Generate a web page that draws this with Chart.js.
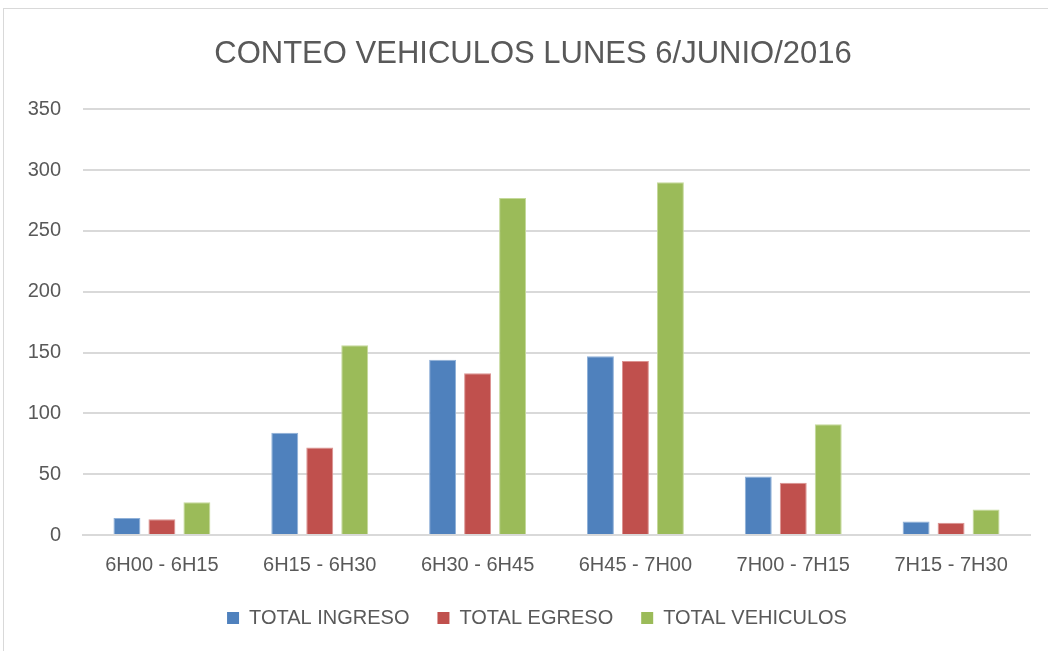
<!DOCTYPE html>
<html>
<head>
<meta charset="utf-8">
<script src="https://cdn.jsdelivr.net/npm/chart.js@4"></script>
<style>
  html, body { margin: 0; padding: 0; background: #ffffff; }
  #wrap { position: relative; width: 1048px; height: 651px; overflow: hidden; }
  #frame { position: absolute; left: 3px; top: 8px; width: 1100px; height: 700px; border: 1px solid #D9D9D9; box-sizing: border-box; }
  canvas { position: absolute; left: 0; top: 0; }
</style>
</head>
<body>
<div id="wrap">
  <div id="frame"></div>
  <canvas id="c" width="1048" height="651"></canvas>
</div>
<script>
const title = "CONTEO VEHICULOS LUNES 6/JUNIO/2016";
const categories = ["6H00 - 6H15", "6H15 - 6H30", "6H30 - 6H45", "6H45 - 7H00", "7H00 - 7H15", "7H15 - 7H30"];
const totalIngreso = [14, 84, 144, 147, 48, 11];
const totalEgreso = [13, 72, 133, 143, 43, 10];
const totalVehiculos = [27, 156, 277, 290, 91, 21];
const seriesNames = ["TOTAL INGRESO", "TOTAL EGRESO", "TOTAL VEHICULOS"];
const yTicks = [0, 50, 100, 150, 200, 250, 300, 350];

const FONT = "'Liberation Sans', 'Open Sans', sans-serif";
const TXT = "#595959";
const GRID = "#D9D9D9";

function ds(label, data, fill, edge) {
  return {
    label, data,
    backgroundColor: fill,
    borderColor: edge,
    borderWidth: 1,
    categoryPercentage: 0.665,
    barPercentage: 0.77
  };
}

// shift title and legend horizontally to their places in the original
const shiftBlocks = {
  id: 'shiftBlocks',
  afterLayout(chart) {
    if (chart.titleBlock) { chart.titleBlock.left += 18; chart.titleBlock.right += 18; }
    if (chart.legend) { chart.legend.left += 22; chart.legend.right += 22; }
  }
};

new Chart(document.getElementById('c'), {
  type: 'bar',
  data: {
    labels: categories,
    datasets: [
      ds(seriesNames[0], totalIngreso, '#4F81BD', '#8FB0D8'),
      ds(seriesNames[1], totalEgreso, '#C0504D', '#DC9391'),
      ds(seriesNames[2], totalVehiculos, '#9BBB59', '#C4D99A')
    ]
  },
  plugins: [shiftBlocks],
  options: {
    responsive: false,
    animation: false,
    devicePixelRatio: 1,
    layout: { padding: { left: 0, right: 18, top: 0, bottom: 13 } },
    plugins: {
      title: {
        display: true,
        text: title,
        color: TXT,
        font: { family: FONT, size: 31, weight: 'normal' },
        padding: { top: 36, bottom: 36 }
      },
      legend: {
        position: 'bottom',
        labels: {
          color: TXT,
          font: { family: FONT, size: 20 },
          boxWidth: 12,
          boxHeight: 12,
          padding: 28,
          generateLabels: (chart) => chart.data.datasets.map((d, i) => ({
            text: d.label, fillStyle: d.backgroundColor, strokeStyle: d.backgroundColor,
            lineWidth: 0, fontColor: TXT, datasetIndex: i, hidden: false
          }))
        }
      },
      tooltip: { enabled: false }
    },
    scales: {
      x: {
        afterFit: (s) => { s.height = 45; },
        grid: { display: false, drawTicks: false },
        border: { display: true, color: GRID, width: 2 },
        ticks: { color: TXT, font: { family: FONT, size: 20 }, padding: 18, maxRotation: 0 }
      },
      y: {
        min: 0, max: 350,
        afterFit: (s) => { s.width = 83; },
        afterBuildTicks: (s) => { s.ticks = yTicks.map(v => ({ value: v })); },
        grid: { color: GRID, lineWidth: 2, drawTicks: false },
        border: { display: false },
        ticks: { color: TXT, font: { family: FONT, size: 20 }, padding: 22 }
      }
    }
  }
});
</script>
</body>
</html>
